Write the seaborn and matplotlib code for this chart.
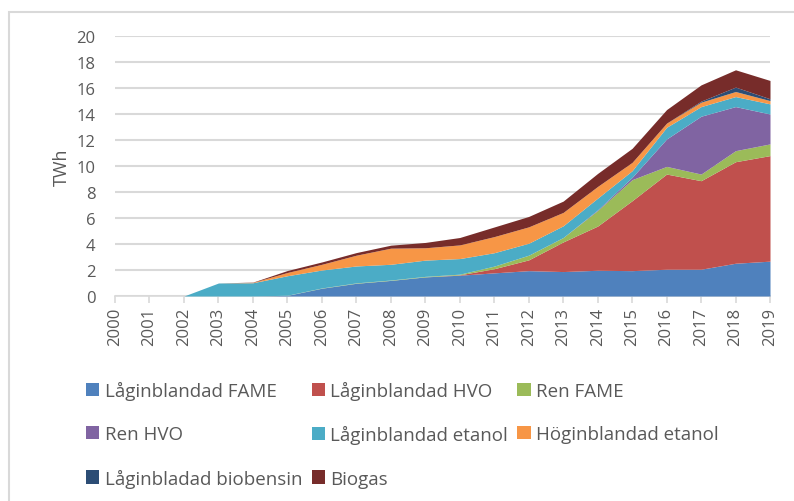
import matplotlib
matplotlib.use("Agg")
import matplotlib.pyplot as plt
from matplotlib.patches import Patch, Rectangle
import seaborn as sns
import numpy as np

years = list(range(2000, 2020))

lag_fame = [0, 0, 0, 0, 0, 0.05, 0.6, 0.98, 1.2, 1.47, 1.6, 1.78, 1.95, 1.88, 1.98, 1.95, 2.06, 2.06, 2.52, 2.68]
lag_hvo = [0, 0, 0, 0, 0, 0, 0, 0, 0, 0, 0.03, 0.32, 0.83, 2.28, 3.4, 5.38, 7.32, 6.81, 7.81, 8.12]
ren_fame = [0, 0, 0, 0, 0, 0.01, 0.02, 0.03, 0.03, 0.04, 0.05, 0.2, 0.36, 0.34, 1.2, 1.62, 0.59, 0.51, 0.85, 0.9]
ren_hvo = [0, 0, 0, 0, 0, 0, 0, 0, 0, 0, 0, 0, 0, 0, 0.05, 0.18, 2.11, 4.45, 3.39, 2.3]
lag_etanol = [0, 0, 0, 1.0, 1.02, 1.5, 1.38, 1.3, 1.21, 1.25, 1.2, 1.03, 0.92, 0.9, 0.9, 0.51, 0.9, 0.74, 0.77, 0.78]
hog_etanol = [0, 0, 0, 0, 0.03, 0.25, 0.44, 0.83, 1.24, 0.95, 1.05, 1.24, 1.26, 1.03, 0.9, 0.64, 0.32, 0.34, 0.39, 0.25]
lag_biobensin = [0, 0, 0, 0, 0, 0, 0, 0, 0, 0, 0, 0, 0, 0, 0, 0, 0, 0.08, 0.34, 0.14]
biogas = [0, 0, 0, 0, 0.02, 0.15, 0.18, 0.2, 0.23, 0.41, 0.57, 0.74, 0.8, 0.87, 1.0, 1.08, 1.04, 1.25, 1.33, 1.41]

labels = ["Låginblandad FAME", "Låginblandad HVO", "Ren FAME", "Ren HVO",
          "Låginblandad etanol", "Höginblandad etanol", "Låginbladad biobensin", "Biogas"]
colors = ["#4F81BD", "#C0504D", "#9BBB59", "#8064A2",
          "#4BACC6", "#F79646", "#2C4D75", "#772C2A"]

sns.set_theme(style="white")
plt.rcParams["font.family"] = ["Open Sans", "DejaVu Sans"]
text_col = "#595959"

fig = plt.figure(figsize=(7.94, 5.02), dpi=100)
ax = fig.add_axes([115 / 794, 1 - 297 / 502, 655 / 794, 260 / 502])

series = [lag_fame, lag_hvo, ren_fame, ren_hvo, lag_etanol, hog_etanol, lag_biobensin, biogas]
ax.stackplot(years, *series, colors=colors, labels=labels, linewidth=0, zorder=3)

ax.set_xlim(2000, 2019)
ax.set_ylim(0, 20)
ax.set_yticks(range(0, 21, 2))
ax.set_xticks(years)
ax.set_xticklabels([str(y) for y in years], rotation=90, fontsize=12, color=text_col)
ax.tick_params(axis="y", labelsize=12, labelcolor=text_col, length=0, pad=14)
ax.tick_params(axis="x", length=5, width=1.2, color="#D9D9D9", direction="out", pad=3, bottom=True)
ax.yaxis.grid(True, color="#D9D9D9", linewidth=1.5, zorder=0)
ax.set_axisbelow(True)
for s in ["top", "right", "left"]:
    ax.spines[s].set_visible(False)
ax.spines["bottom"].set_color("#D9D9D9")
ax.spines["bottom"].set_linewidth(1.2)
ax.set_ylabel("TWh", fontsize=13, color=text_col, labelpad=4)

# legend filled row-wise like the original (3 columns)
order = [0, 3, 6, 1, 4, 7, 2, 5]
handles = [Patch(facecolor=colors[i], edgecolor="none") for i in order]
fig.legend(handles, [labels[i] for i in order], ncol=3, loc="upper left",
           bbox_to_anchor=(69 / 794, 1 - 365 / 502), frameon=False,
           fontsize=13.5, handlelength=0.7, handleheight=0.7, handletextpad=0.3,
           columnspacing=0.5, labelspacing=1.35, labelcolor=text_col)

# outer chart border
fig.patches.append(Rectangle((9 / 794, -0.05), 1.2, 1 - 13 / 502 + 0.05,
                             transform=fig.transFigure, fill=False,
                             edgecolor="#D9D9D9", linewidth=1.5))

fig.savefig("out.png", dpi=100)
